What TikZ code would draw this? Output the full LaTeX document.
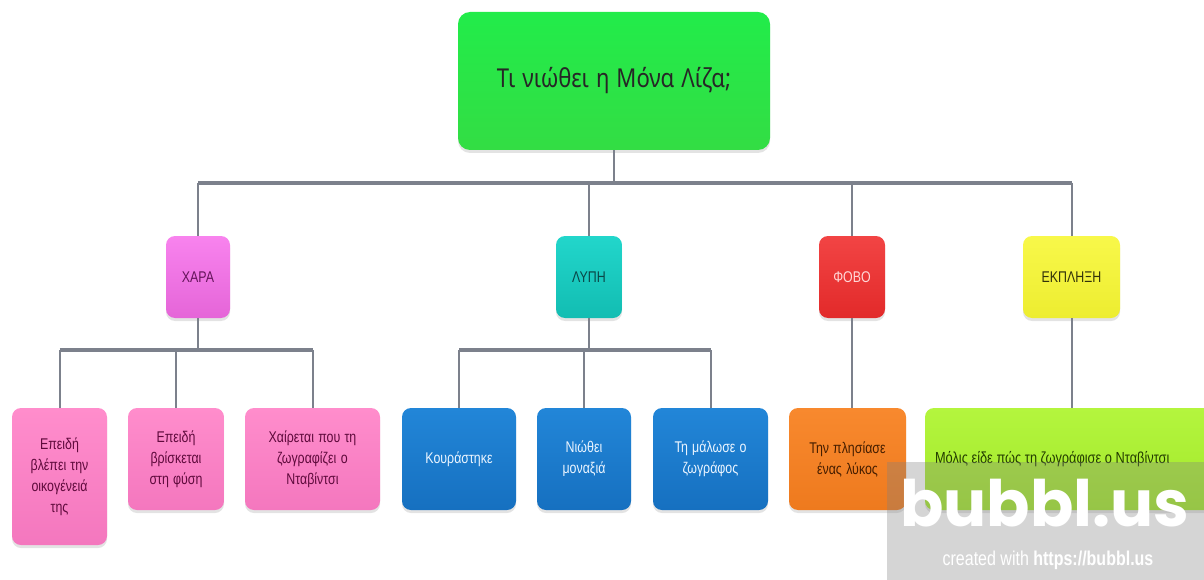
\documentclass[tikz,border=0pt]{standalone}
\usepackage{fontspec}
\setmainfont[FakeStretch=0.8]{Liberation Sans}
\newfontfamily\rootfont[FakeStretch=0.85]{Noto Sans}
\newfontfamily\wmfont{Poppins}
\usetikzlibrary{shadows}
\newcommand\tightsp{\spaceskip=3.6pt plus 1pt minus 0.5pt\relax}
\newcommand\rootsp{\spaceskip=7pt plus 1pt minus 0.5pt\relax}
\definecolor{linegray}{HTML}{7C818C}
\definecolor{rootg}{HTML}{22EC4A}
\definecolor{rootgb}{HTML}{33DD44}
\definecolor{xarac}{HTML}{F883EE}
\definecolor{xaracb}{HTML}{E565D8}
\definecolor{lypic}{HTML}{22D6CB}
\definecolor{lypicb}{HTML}{12BDB2}
\definecolor{fovoc}{HTML}{F24444}
\definecolor{fovocb}{HTML}{E22A2A}
\definecolor{ekplc}{HTML}{F8F84A}
\definecolor{ekplcb}{HTML}{EDED30}
\definecolor{pinkc}{HTML}{FF8DCC}
\definecolor{pinkcb}{HTML}{F477BE}
\definecolor{bluec}{HTML}{2286D8}
\definecolor{bluecb}{HTML}{1670C0}
\definecolor{orangec}{HTML}{F8892E}
\definecolor{orangecb}{HTML}{EE7A1E}
\definecolor{limec}{HTML}{B4F53E}
\definecolor{limecb}{HTML}{A2E82A}
\tikzset{
  shade box/.style={rounded corners=9pt, inner sep=3pt, align=center,
    drop shadow={opacity=0.22, shadow xshift=0pt, shadow yshift=-3pt}},
  box/.style={shade box, font=\fontsize{15.5}{21}\selectfont, execute at begin node=\tightsp},
  conn/.style={draw=linegray, line width=2pt},
  barline/.style={draw=linegray, line width=3.5pt},
}
\begin{document}
\begin{tikzpicture}[x=1pt,y=-1pt]
\useasboundingbox (0,0) rectangle (1204,580);
\clip (0,0) rectangle (1204,580);
% root
\node[shade box, rounded corners=12pt, top color=rootg, bottom color=rootgb, minimum width=312pt, minimum height=138pt, text=black!85, font=\rootfont\fontsize{26}{30}\selectfont, execute at begin node=\rootsp] (root) at (614,81) {Τι νιώθει η Μόνα Λίζα;};
% level 1
\tikzset{lvone/.style={box, minimum height=82pt, font=\fontsize{15.5}{18}\selectfont}}
\node[lvone, top color=xarac, bottom color=xaracb, minimum width=64pt, text={rgb,255:red,100;green,20;blue,90}] (xara) at (198,277) {ΧΑΡΑ};
\node[lvone, top color=lypic, bottom color=lypicb, minimum width=66pt, text={rgb,255:red,10;green,70;blue,70}] (lypi) at (589,277) {ΛΥΠΗ};
\node[lvone, top color=fovoc, bottom color=fovocb, minimum width=66pt, text={rgb,255:red,255;green,215;blue,215}] (fovo) at (852,277) {ΦΟΒΟ};
\node[lvone, top color=ekplc, bottom color=ekplcb, minimum width=97pt, text={rgb,255:red,50;green,50;blue,10}] (ekpl) at (1071.5,277) {ΕΚΠΛΗΞΗ};
% level 2
\tikzset{pinkbox/.style={box, top color=pinkc, bottom color=pinkcb, text={rgb,255:red,95;green,10;blue,60}},
  bluebox/.style={box, top color=bluec, bottom color=bluecb, minimum height=102pt, text={rgb,255:red,235;green,245;blue,255}}}
\node[pinkbox, minimum width=95pt, minimum height=137pt, text width=85pt] (a1) at (59.5,476.5) {Επειδή\\βλέπει την\\οικογένειά\\της};
\node[pinkbox, minimum width=96pt, minimum height=102pt, text width=86pt] (a2) at (176,459) {Επειδή\\βρίσκεται\\στη φύση};
\node[pinkbox, minimum width=135pt, minimum height=102pt, text width=125pt] (a3) at (312.5,459) {Χαίρεται που τη\\ζωγραφίζει ο\\Νταβίντσι};
\node[bluebox, minimum width=114pt, text width=104pt] (b1) at (459,459) {Κουράστηκε};
\node[bluebox, minimum width=94pt, text width=84pt] (b2) at (584,459) {Νιώθει\\μοναξιά};
\node[bluebox, minimum width=115pt, text width=105pt] (b3) at (710.5,459) {Τη μάλωσε ο\\ζωγράφος};
\node[box, top color=orangec, bottom color=orangecb, minimum width=117pt, minimum height=102pt, text width=107pt, text={rgb,255:red,70;green,30;blue,0}] (c1) at (847.5,459) {Την πλησίασε\\ένας λύκος};
\node[box, top color=limec, bottom color=limecb, minimum width=300pt, minimum height=102pt, text width=280pt, align=left, font=\fontsize{16}{21}\selectfont, text={rgb,255:red,35;green,60;blue,0}] (d1) at (1075,459) {Μόλις είδε πώς τη ζωγράφισε ο Νταβίντσι};
% connectors level 0-1
\coordinate (bar1) at (0,183);
\draw[conn, line width=2.5pt] (root.south) -- (root.south |- bar1);
\draw[barline] (xara.north |- bar1) -- (ekpl.north |- bar1);
\foreach \n in {xara,lypi,fovo,ekpl} \draw[conn] (\n.north |- bar1) -- (\n.north);
% level 1-2
\coordinate (bar2) at (0,350);
\draw[conn] (xara.south) -- (xara.south |- bar2);
\draw[barline] (a1.north |- bar2) -- (a3.north |- bar2);
\foreach \n in {a1,a2,a3} \draw[conn] (\n.north |- bar2) -- (\n.north);
\draw[conn] (lypi.south) -- (lypi.south |- bar2);
\draw[barline] (b1.north |- bar2) -- (b3.north |- bar2);
\foreach \n in {b1,b2,b3} \draw[conn] (\n.north |- bar2) -- (\n.north);
\draw[conn] (fovo.south) -- (fovo.south |- c1.north);
\draw[conn] (ekpl.south) -- (ekpl.south |- d1.north);
% watermark
\fill[gray, opacity=0.33] (887,462) rectangle (1204,580);
\node[text=white, font=\wmfont\bfseries\fontsize{64}{64}\selectfont, inner sep=0pt, anchor=base] (wm) at (1045,526) {bubbl.us};
\node[text=white, font=\fontsize{20}{20}\selectfont, inner sep=0pt] (wm2) at (1048,560) {created with \textbf{https://bubbl.us}};
\end{tikzpicture}
\end{document}
